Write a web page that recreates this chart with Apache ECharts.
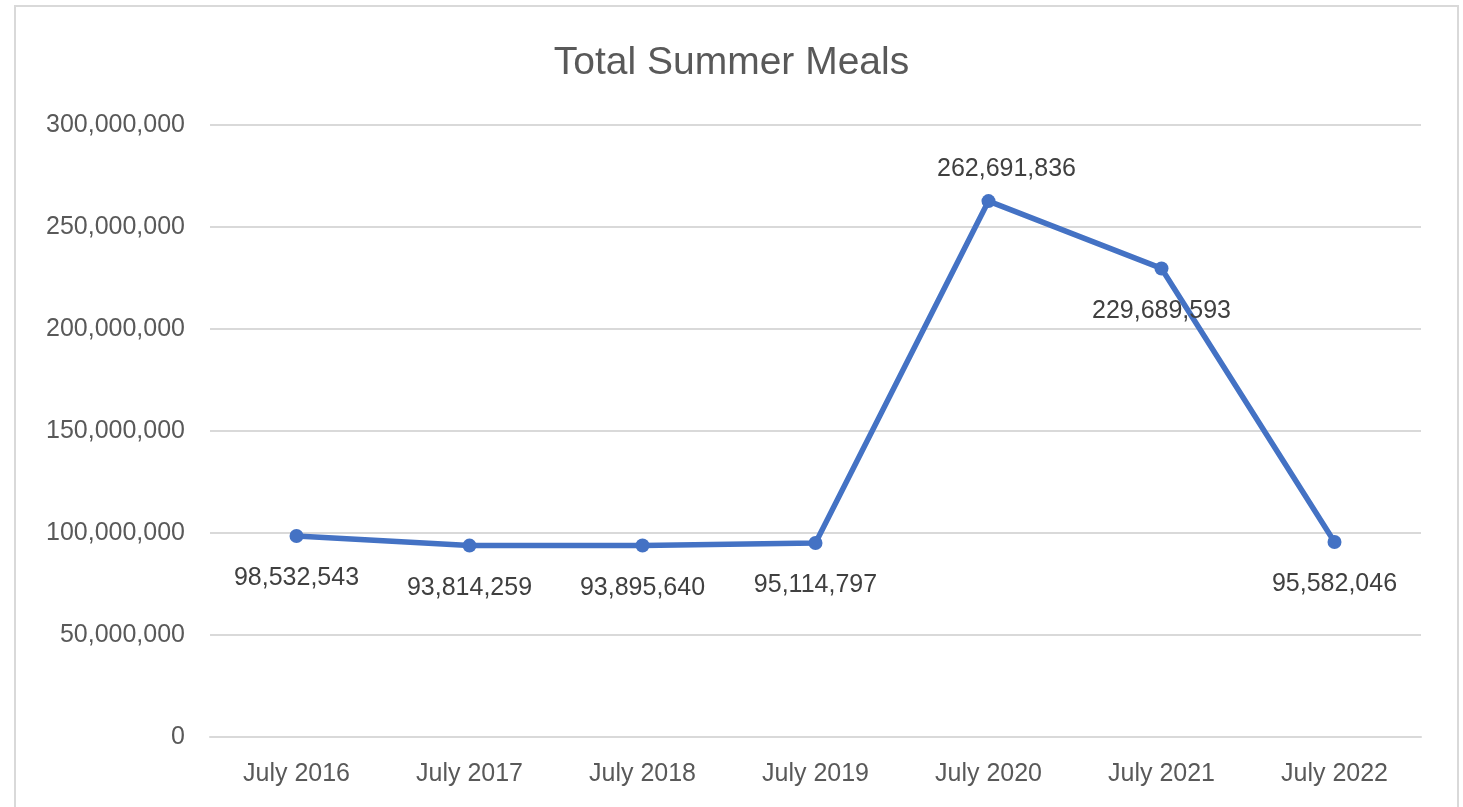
<!DOCTYPE html>
<html>
<head>
<meta charset="utf-8">
<script src="https://cdn.jsdelivr.net/npm/echarts@6/dist/echarts.min.js"></script>
<style>
html,body{margin:0;padding:0;background:#fff;}
#c{width:1463px;height:807px;}
</style>
</head>
<body>
<div id="c"></div>
<script>
const categories = ['July 2016','July 2017','July 2018','July 2019','July 2020','July 2021','July 2022'];
const meals = [98532543, 93814259, 93895640, 95114797, 262691836, 229689593, 95582046];
const labelAbove = [false, false, false, false, true, false, false];
const titleText = 'Total Summer Meals';

const fmt = v => v.toLocaleString('en-US');
const FONT = '"Liberation Sans", Arial, sans-serif';

const chart = echarts.init(document.getElementById('c'));
chart.setOption({
  backgroundColor: '#fff',
  animation: false,
  title: {
    text: titleText,
    left: 'center',
    top: 39,
    textStyle: { fontFamily: FONT, fontSize: 39, fontWeight: 'normal', color: '#595959' }
  },
  graphic: [{
    type: 'rect',
    shape: { x: 15, y: 6, width: 1443, height: 810 },
    style: { fill: 'none', stroke: '#d9d9d9', lineWidth: 2 },
    silent: true
  }],
  grid: { left: 210, right: 42, top: 125, bottom: 70 },
  xAxis: {
    type: 'category',
    data: categories,
    boundaryGap: true,
    axisLine: { lineStyle: { color: '#d9d9d9', width: 2 } },
    axisTick: { show: false },
    axisLabel: { fontFamily: FONT, fontSize: 25, color: '#595959', margin: 25 }
  },
  yAxis: {
    type: 'value',
    min: 0, max: 300000000, interval: 50000000,
    axisLine: { show: false },
    axisTick: { show: false },
    splitLine: { lineStyle: { color: '#d9d9d9', width: 2 } },
    axisLabel: { fontFamily: FONT, fontSize: 25, color: '#595959', margin: 25, formatter: v => fmt(v) }
  },
  series: [{
    type: 'line',
    data: meals.map((v, i) => ({
      value: v,
      label: labelAbove[i]
        ? { position: 'top', distance: 12, offset: [18, 0] }
        : { position: 'bottom', distance: 23 }
    })),
    symbol: 'circle',
    symbolSize: 14,
    lineStyle: { color: '#4472C4', width: 5.5 },
    itemStyle: { color: '#4472C4' },
    label: {
      show: true,
      fontFamily: FONT,
      fontSize: 25,
      color: '#404040',
      formatter: p => fmt(p.value)
    }
  }]
});
</script>
</body>
</html>
